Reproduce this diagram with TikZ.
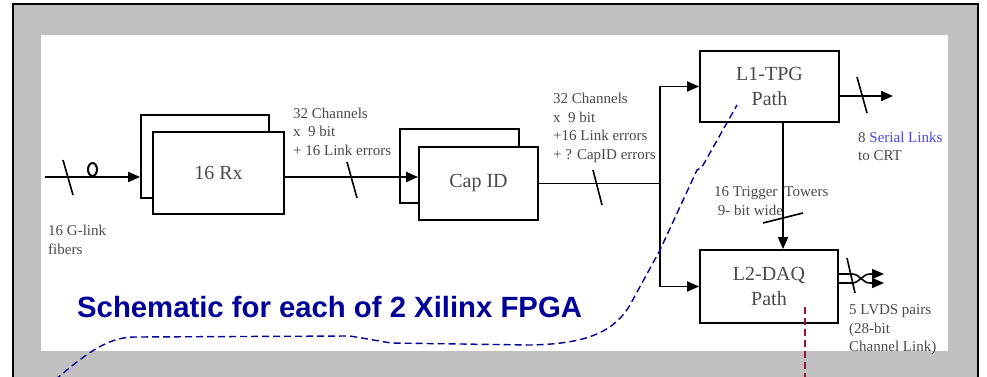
\documentclass[tikz,border=0pt]{standalone}
\usepackage{fontspec}
\setmainfont{Liberation Serif}
\setsansfont{Liberation Sans}
\usepackage{xcolor}
\definecolor{framegray}{HTML}{C0C0C0}
\definecolor{inkgray}{HTML}{4A4A4A}
\definecolor{navyblue}{HTML}{000099}
\definecolor{linkblue}{HTML}{4848F0}
\definecolor{darkred}{HTML}{A01030}
\usetikzlibrary{arrows.meta,calc}
\tikzset{
  >={Triangle[length=12pt,width=10pt]},
  blk/.style    ={draw,line width=1.8pt,fill=white,inner sep=0pt,align=center,
                  font=\fontsize{20}{25}\selectfont,text=inkgray},
  lbl/.style    ={font=\fontsize{15}{18.5}\selectfont,text=inkgray,align=left,
                  anchor=west,inner sep=0pt},
  wire/.style   ={line width=1.6pt},
  flow/.style   ={->,line width=1.8pt},
  slashmark/.style={line width=1.6pt},
  callout/.style={dash pattern=on 7pt off 4pt,line width=1.4pt},
}

\begin{document}
\begin{tikzpicture}[x=1pt,y=-1pt]
\useasboundingbox (0,0) rectangle (987,377);
\clip (0,0) rectangle (987,377);
%======================= FRAME ==================================
\fill[white] (0,0) rectangle (987,377);
\draw[fill=framegray,line width=1.2pt] (13,4) rectangle (978,395);
\fill[white] (41,35) rectangle (948,351);
%======================= INPUT + 16 Rx ==========================
\node[blk,minimum width=128pt,minimum height=83pt] (rxback) at (205,156.5) {};
\node[blk,minimum width=131pt,minimum height=82pt] (rx) at (218.5,173) {16 Rx};
\coordinate (fin) at (45,177);
\draw[flow] (fin) -- (fin -| rxback.west);
\draw[slashmark] (63,160) -- (73,195);
\draw[line width=2pt] (92.5,169.5) ellipse (4.5 and 6.5);
\node[lbl] (fib) at (48,240) {16 G-link\\fibers};
%======================= CAP ID =================================
\node[blk,minimum width=119pt,minimum height=74pt] (capback) at (459.5,166) {};
\node[blk,minimum width=119pt,minimum height=73pt] (cap) at (478.5,183.5) {Cap ID};
\draw[flow] ($(rx.east)+(0,4)$) -- ($(cap.west)+(0,-6.5)$);
\draw[slashmark] (347,162) -- (357,198);
\node[lbl] (rxout) at (293,131.5) {32 Channels\\x\ \ 9 bit\\+ 16 Link errors};
%======================= BUS + PATHS ============================
\node[blk,minimum width=139pt,minimum height=71pt] (l1) at (769.5,86.5) {L1-TPG\\Path};
\node[blk,minimum width=138pt,minimum height=73pt] (l2) at (769,286.5) {L2-DAQ\\Path};
\coordinate (bus) at (660,183.5);
\draw[wire] (cap.east) -- (bus);
\draw[slashmark] (593,170) -- (602,205);
\node[lbl] (capout) at (553,128) {32 Channels\\x\ \ 9 bit\\+16 Link errors\\+ ? CapID errors};
\draw[flow] (bus |- l2.west) -- (bus |- l1.west) -- (l1.west);
\draw[flow] (bus |- l1.west) -- (bus |- l2.west) -- (l2.west);
%======================= OUTPUTS ================================
\node[lbl] (tt) at (714,201) {16 Trigger\hspace{7pt}Towers\\\ 9- bit wide};
\draw[flow] ($(l1.south)+(13.5,0)$) -- ($(l2.north)+(14,0)$);
\draw[slashmark] (763,223) -- (803,213);
\coordinate (crt) at (893,96);
\draw[flow] (l1.east |- crt) -- (crt);
\draw[slashmark] (857,77) -- (867,113);
\node[lbl] (sl) at (858,146.5) {8 \textcolor{linkblue}{Serial Links}\\to CRT};
\coordinate (lv1) at (884,274);
\coordinate (lv2) at (884,283);
\draw[->,wire] (l2.east |- lv1) -- (852,274) .. controls (860,274) and (862,283) .. (870,283) -- (lv2);
\draw[->,wire] (l2.east |- lv2) -- (852,283) .. controls (860,283) and (862,274) .. (870,274) -- (lv1);
\draw[slashmark] (847,258) -- (855,293);
\node[lbl] (lvds) at (849,330) {5 LVDS pairs\\(28-bit\\Channel Link)};
%======================= TITLE + CALLOUTS =======================
\node[font=\sffamily\bfseries\fontsize{29.3}{31}\selectfont,text=navyblue,anchor=west,inner sep=0pt]
  (title) at (77,307) {Schematic for each of 2 Xilinx FPGA};
\draw[callout,navyblue] (55,380) .. controls (90,350) and (110,337) .. (135,337)
  -- (350,336) -- (391,343) -- (530,345) .. controls (590,344) and (615,330) .. (630,305)
  -- (660,250) -- (697,170) -- (702,167) -- (737,105);
\draw[callout,darkred] (805,307) -- (805,380);
\end{tikzpicture}
\end{document}
